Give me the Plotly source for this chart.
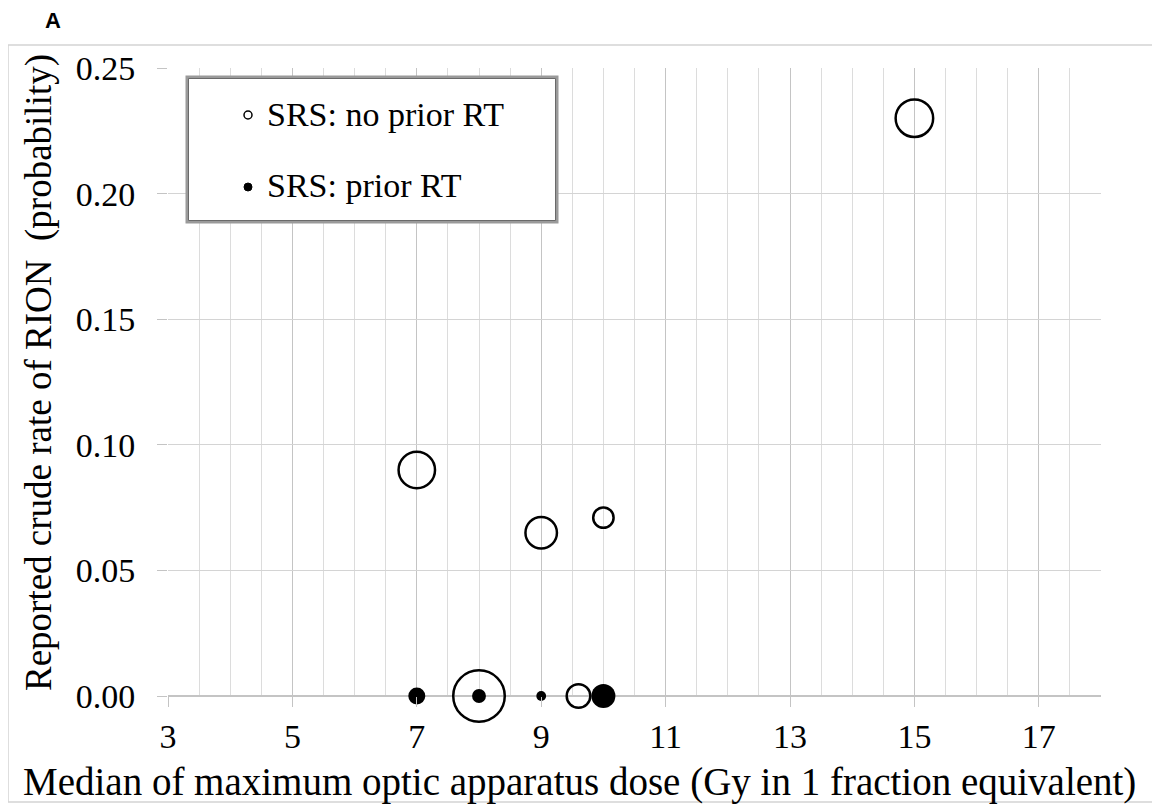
import plotly.graph_objects as go

# ---- data ----
series_names = ["SRS: no prior RT", "SRS: prior RT"]

no_prior_dose = [15, 7, 9, 10, 8, 9.6]
no_prior_rate = [0.23, 0.09, 0.065, 0.071, 0.0, 0.0]
no_prior_n = [88, 83, 62, 26, 166, 35]   # bubble weight (estimated)

prior_dose = [7, 8, 9, 10]
prior_rate = [0.0, 0.0, 0.0, 0.0]
prior_n = [18, 12, 6, 36]                # bubble weight (estimated)

x_title = "Median of maximum optic apparatus dose (Gy in 1 fraction equivalent)"
y_title = "Reported crude rate of RION \u00a0(probability)"
panel_label = "A"

# ---- layout geometry (page pixels; page body has an 8px margin) ----
OFF = 8
W, H = 1160 - OFF, 804 - OFF
PL, PR, PT, PB = 168, 1101, 68, 696          # plot area in page pixels
L, T = PL - OFF, PT - OFF
R, B = W - (PR - OFF), H - (PB - OFF)
PW, PH = PR - PL, PB - PT


def px(xp):
    return (xp - PL) / PW


def py(yp):
    return (PB - yp) / PH


SERIF = "Liberation Serif, Times New Roman, serif"

fig = go.Figure()
fig.add_trace(go.Scatter(
    x=no_prior_dose, y=no_prior_rate, mode="markers", name=series_names[0],
    marker=dict(size=no_prior_n, sizemode="area", sizeref=1 / 8, opacity=1,
                color="rgba(0,0,0,0)", line=dict(color="black", width=2.5)),
    cliponaxis=False, showlegend=False))
fig.add_trace(go.Scatter(
    x=prior_dose, y=prior_rate, mode="markers", name=series_names[1],
    marker=dict(size=prior_n, sizemode="area", sizeref=1 / 8, opacity=1,
                color="black", line=dict(color="black", width=0)),
    cliponaxis=False, showlegend=False))

shapes = []
# outer frame
shapes.append(dict(type="rect", xref="paper", yref="paper",
                   x0=px(8), x1=px(1157), y0=py(802), y1=py(45),
                   line=dict(color="#d4d4d4", width=1.5), layer="below"))
# legend box
shapes.append(dict(type="rect", xref="paper", yref="paper",
                   x0=px(187), x1=px(557), y0=py(222), y1=py(77),
                   line=dict(color="#9a9a9a", width=3), fillcolor="white",
                   layer="above"))
shapes.append(dict(type="rect", xref="paper", yref="paper",
                   x0=px(188.5), x1=px(555.5), y0=py(220.5), y1=py(78.5),
                   line=dict(color="#6a6a6a", width=1), layer="above"))
# legend symbols
r = 4
shapes.append(dict(type="circle", xref="paper", yref="paper",
                   x0=px(248 - r), x1=px(248 + r), y0=py(115 + r), y1=py(115 - r),
                   line=dict(color="black", width=1.5), layer="above"))
shapes.append(dict(type="circle", xref="paper", yref="paper",
                   x0=px(248 - r), x1=px(248 + r), y0=py(187 + r), y1=py(187 - r),
                   line=dict(color="black", width=1), fillcolor="black", layer="above"))

annotations = [
    dict(text=series_names[0], xref="paper", yref="paper", x=px(265), y=py(114),
         xanchor="left", yanchor="middle", showarrow=False,
         font=dict(family=SERIF, size=34, color="black")),
    dict(text=series_names[1], xref="paper", yref="paper", x=px(265), y=py(186),
         xanchor="left", yanchor="middle", showarrow=False,
         font=dict(family=SERIF, size=34, color="black")),
    dict(text="<b>" + panel_label + "</b>", xref="paper", yref="paper",
         x=px(53), y=py(20), xanchor="center", yanchor="middle", showarrow=False,
         font=dict(family="Liberation Sans, Arial, sans-serif", size=22, color="black")),
    dict(text=x_title, xref="paper", yref="paper", x=px(579), y=py(782),
         xanchor="center", yanchor="middle", showarrow=False,
         font=dict(family=SERIF, size=39, color="black")),
    dict(text=y_title, xref="paper", yref="paper", x=px(39), y=py(373),
         xanchor="center", yanchor="middle", showarrow=False, textangle=-90,
         font=dict(family=SERIF, size=37, color="black")),
]

fig.update_layout(
    width=W, height=H,
    margin=dict(l=L, r=R, t=T, b=B, pad=0, autoexpand=False),
    paper_bgcolor="white", plot_bgcolor="white",
    shapes=shapes, annotations=annotations,
    font=dict(family=SERIF, color="black"),
)
fig.update_xaxes(
    range=[3, 18], tick0=3, dtick=2, showgrid=True, gridcolor="#c4c4c4", gridwidth=1.2,
    minor=dict(dtick=0.5, showgrid=True, gridcolor="#dcdcdc", gridwidth=1),
    ticks="outside", ticklen=10, tickcolor="#c4c4c4", tickwidth=1.2,
    tickfont=dict(family=SERIF, size=34, color="black"),
    zeroline=False, showline=False, fixedrange=True, automargin=False)
fig.update_yaxes(
    range=[0, 0.25], tick0=0, dtick=0.05, tickformat=".2f",
    showgrid=True, gridcolor="#d4d4d4", gridwidth=1.2,
    zeroline=True, zerolinecolor="#c4c4c4", zerolinewidth=1.5,
    ticks="outside", ticklen=10, tickcolor="#c4c4c4", tickwidth=1.2,
    ticklabelstandoff=15,
    tickfont=dict(family=SERIF, size=34, color="black"),
    showline=False, fixedrange=True, automargin=False)

fig.write_html("out.html")
